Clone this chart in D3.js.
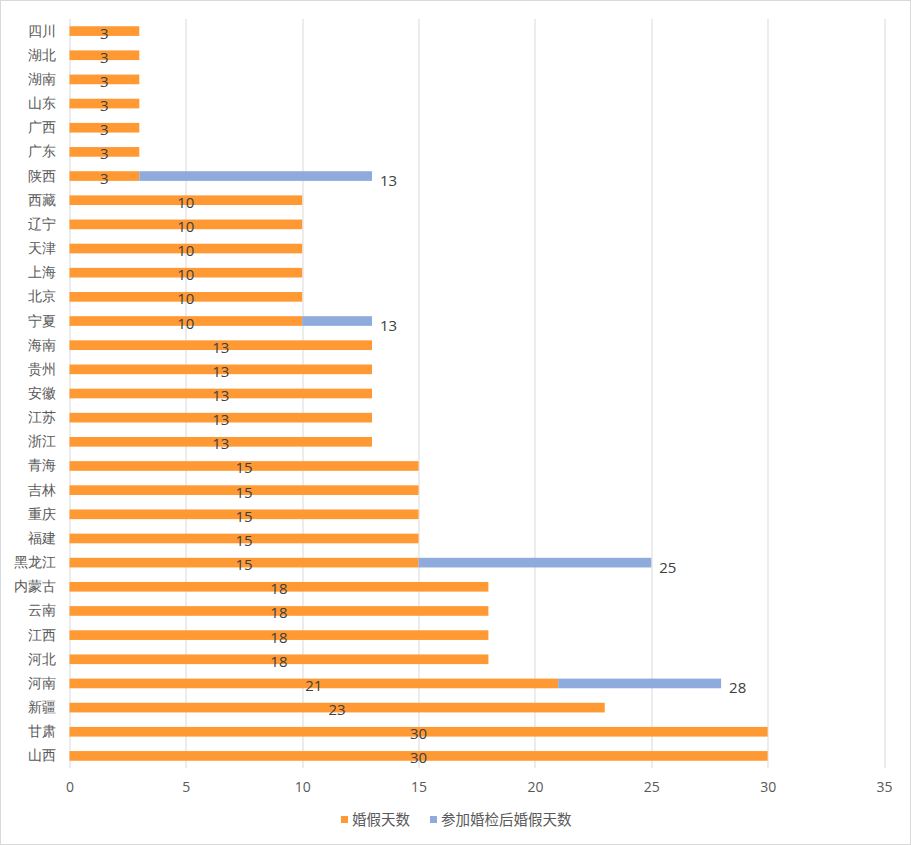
<!DOCTYPE html>
<html>
<head>
<meta charset="utf-8">
<script src="https://cdn.jsdelivr.net/npm/d3@7"></script>
<style>
  body { margin: 0; background: #fff; }
  svg { font-family: "Noto Sans CJK SC", "Noto Sans", sans-serif; }
</style>
</head>
<body>
<div id="chart"></div>
<script>
// provinces, top to bottom
var provinces = ["四川", "湖北", "湖南", "山东", "广西", "广东", "陕西", "西藏", "辽宁", "天津",
  "上海", "北京", "宁夏", "海南", "贵州", "安徽", "江苏", "浙江", "青海", "吉林",
  "重庆", "福建", "黑龙江", "内蒙古", "云南", "江西", "河北", "河南", "新疆", "甘肃", "山西"];
// base marriage leave days
var baseDays = [3, 3, 3, 3, 3, 3, 3, 10, 10, 10,
  10, 10, 10, 13, 13, 13, 13, 13, 15, 15,
  15, 15, 15, 18, 18, 18, 18, 21, 23, 30, 30];
// extra days after premarital check
var extraDays = [0, 0, 0, 0, 0, 0, 10, 0, 0, 0,
  0, 0, 3, 0, 0, 0, 0, 0, 0, 0,
  0, 0, 10, 0, 0, 0, 0, 7, 0, 0, 0];
var xTicks = [0, 5, 10, 15, 20, 25, 30, 35];
var seriesNames = ["婚假天数", "参加婚检后婚假天数"];
var colors = ["#FF9933", "#8FAADC"];

var W = 911, H = 845;
var margin = {top: 19, right: 27, bottom: 77, left: 69.5};
var width = W - margin.left - margin.right,
    height = H - margin.top - margin.bottom;

var data = provinces.map(function(p, i) {
  return {name: p, base: baseDays[i], extra: extraDays[i]};
});

var x = d3.scaleLinear().domain([0, 35]).range([0, width]);
var y = d3.scaleBand().domain(provinces).range([0, height]).paddingInner(0.6).paddingOuter(0.3);

var svg = d3.select("#chart").append("svg")
    .attr("width", W)
    .attr("height", H);

// outer border
svg.append("rect")
  .attr("x", 0.5).attr("y", 0.5)
  .attr("width", W - 1).attr("height", H - 1)
  .attr("fill", "#fff")
  .attr("stroke", "#d9d9d9");

var g = svg.append("g")
  .attr("transform", "translate(" + margin.left + "," + margin.top + ")");

// gridlines
g.selectAll(".grid")
  .data(xTicks)
  .enter().append("line")
    .attr("class", "grid")
    .attr("x1", function(d) { return Math.round(x(d)) + 0.5; })
    .attr("x2", function(d) { return Math.round(x(d)) + 0.5; })
    .attr("y1", 0)
    .attr("y2", height)
    .attr("stroke", "#d9d9d9")
    .attr("stroke-width", 1);

// x axis labels
var xAxis = g.append("g")
  .attr("transform", "translate(0," + height + ")")
  .call(d3.axisBottom(x).tickValues(xTicks).tickSize(0).tickPadding(14));
xAxis.select(".domain").remove();
xAxis.selectAll("text")
  .style("font-size", "14px")
  .style("font-family", "'Open Sans', 'Noto Sans', sans-serif")
  .attr("fill", "#595959");

// y axis labels
var yAxis = g.append("g")
  .call(d3.axisLeft(y).tickSize(0).tickPadding(14));
yAxis.select(".domain").remove();
yAxis.selectAll("text")
  .style("font-size", "14px")
  .attr("fill", "#595959");

// base bars
g.selectAll(".base")
  .data(data)
  .enter().append("rect")
    .attr("class", "base")
    .attr("x", x(0))
    .attr("y", function(d) { return y(d.name); })
    .attr("width", function(d) { return x(d.base) - x(0); })
    .attr("height", y.bandwidth())
    .attr("fill", colors[0]);

// extra bars
g.selectAll(".extra")
  .data(data.filter(function(d) { return d.extra > 0; }))
  .enter().append("rect")
    .attr("class", "extra")
    .attr("x", function(d) { return x(d.base); })
    .attr("y", function(d) { return y(d.name); })
    .attr("width", function(d) { return x(d.base + d.extra) - x(d.base); })
    .attr("height", y.bandwidth())
    .attr("fill", colors[1]);

// labels inside base bars
g.selectAll(".lbl")
  .data(data)
  .enter().append("text")
    .attr("class", "lbl")
    .attr("x", function(d) { return x(d.base / 2); })
    .attr("y", function(d) { return y(d.name) + y.bandwidth() / 2 + 7.5; })
    .attr("text-anchor", "middle")
    .style("font-size", "15px")
    .style("font-family", "'Open Sans', 'Noto Sans', sans-serif")
    .attr("fill", "#404040")
    .text(function(d) { return d.base; });

// total labels after extra bars
g.selectAll(".tot")
  .data(data.filter(function(d) { return d.extra > 0; }))
  .enter().append("text")
    .attr("class", "tot")
    .attr("x", function(d) { return x(d.base + d.extra) + 8; })
    .attr("y", function(d) { return y(d.name) + y.bandwidth() / 2 + 10; })
    .style("font-size", "15px")
    .style("font-family", "'Open Sans', 'Noto Sans', sans-serif")
    .attr("fill", "#404040")
    .text(function(d) { return d.base + d.extra; });

// legend
var legend = svg.append("g").attr("transform", "translate(341,819)");
var lx = [0, 89];
seriesNames.forEach(function(s, i) {
  legend.append("rect")
    .attr("x", lx[i]).attr("y", -3)
    .attr("width", 7).attr("height", 7)
    .attr("fill", colors[i]);
  legend.append("text")
    .attr("x", lx[i] + 11).attr("y", 5.5)
    .style("font-size", "14.5px")
    .attr("fill", "#595959")
    .text(s);
});
</script>
</body>
</html>
